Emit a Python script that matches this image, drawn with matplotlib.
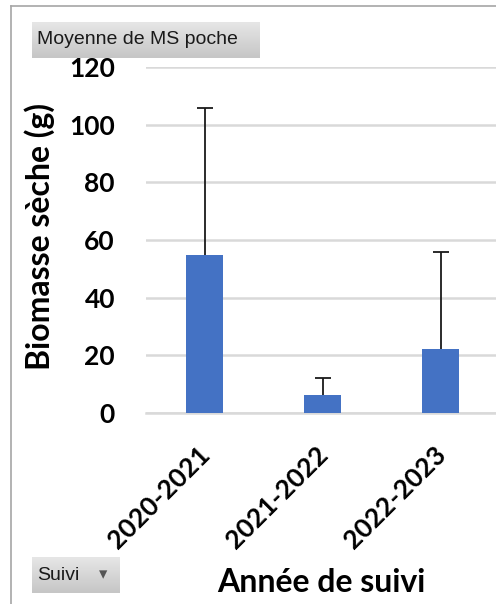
import numpy as np
import matplotlib.pyplot as plt
from matplotlib.lines import Line2D
from matplotlib.colors import LinearSegmentedColormap
from matplotlib.transforms import ScaledTranslation

# Données du graphique
annees = ['2020-2021', '2021-2022', '2022-2023']
moyennes = [54.8, 6.3, 22.1]
ecarts = [50.9, 5.9, 33.7]

bleu = '#4472C4'
gris_grille = '#d9d9d9'

fig = plt.figure(figsize=(4.96, 6.04), dpi=100)

# Zone de tracé (s'étend un peu au-delà du bord droit comme sur la capture)
ax = fig.add_axes([145.5 / 496, 191 / 604, 354 / 496, 346 / 604])
x = np.arange(len(annees))
ax.bar(x, moyennes, width=0.31, color=bleu, zorder=3)
_, caps, _ = ax.errorbar(x, moyennes, yerr=[np.zeros(len(ecarts)), ecarts], fmt='none',
                         ecolor='#1a1a1a', elinewidth=1.3, capsize=6, capthick=1.3, zorder=4)
caps[0].set_visible(False)  # pas de barre basse

ax.set_xlim(-0.5, 2.5)
ax.set_ylim(0, 120)
ax.set_yticks(np.arange(0, 121, 20))
ax.grid(axis='y', color=gris_grille, linewidth=1.8, zorder=0)
for s in ['top', 'right', 'left']:
    ax.spines[s].set_visible(False)
ax.spines['bottom'].set_color(gris_grille)
ax.spines['bottom'].set_linewidth(1.8)
ax.tick_params(length=0)
ax.tick_params(axis='y', pad=22, labelsize=19)
ax.tick_params(axis='x', pad=21)
ax.set_xticks(x)
ax.set_xticklabels(annees, rotation=45, ha='right', va='top', rotation_mode='anchor',
                   fontsize=19, fontweight='bold', family='Lato')
decal = ScaledTranslation(-7 / 100, 0, fig.dpi_scale_trans)
for lab in ax.get_xticklabels():
    lab.set_transform(lab.get_transform() + decal)
for lab in ax.get_yticklabels():
    lab.set_fontweight('bold')
    lab.set_family('Lato')

# Titres des axes
fig.text(40 / 496, 1 - 236 / 604, 'Biomasse sèche (g)', rotation=90, ha='center', va='center',
         fontsize=23, fontweight='bold', family='Lato')
fig.text(321 / 496, 1 - 582 / 604, 'Année de suivi', ha='center', va='center',
         fontsize=23, fontweight='bold', family='Lato')

# Cadre gris (gauche + haut)
fig.add_artist(Line2D([11 / 496, 11 / 496], [0, 1 - 6 / 604], color='#a6a6a6', lw=1.2))
fig.add_artist(Line2D([11 / 496, 1], [1 - 6 / 604, 1 - 6 / 604], color='#a6a6a6', lw=1.2))

# Boutons du tableau croisé dynamique
grad = np.linspace(0, 1, 50).reshape(-1, 1)
degrade = LinearSegmentedColormap.from_list('btn', ['#e6e6e6', '#c6c6c6'])


def bouton(x0, y0, w, h, texte, fleche=False):
    bax = fig.add_axes([x0 / 496, 1 - (y0 + h) / 604, w / 496, h / 604])
    bax.imshow(grad, aspect='auto', cmap=degrade, extent=[0, 1, 0, 1], origin='upper')
    bax.set_xlim(0, 1)
    bax.set_ylim(0, 1)
    bax.axis('off')
    bax.text(5 / w, 0.5, texte, ha='left', va='center', fontsize=14,
             family='Liberation Sans', color='#1a1a1a')
    if fleche:
        bax.text(1 - 17 / w, 0.52, '▾', ha='center', va='center', fontsize=12,
                 color='#555555', family='DejaVu Sans')


bouton(32, 22, 228, 36, 'Moyenne de MS poche')
bouton(32, 557, 88, 36, 'Suivi', fleche=True)

plt.savefig('out.png', dpi=100)
